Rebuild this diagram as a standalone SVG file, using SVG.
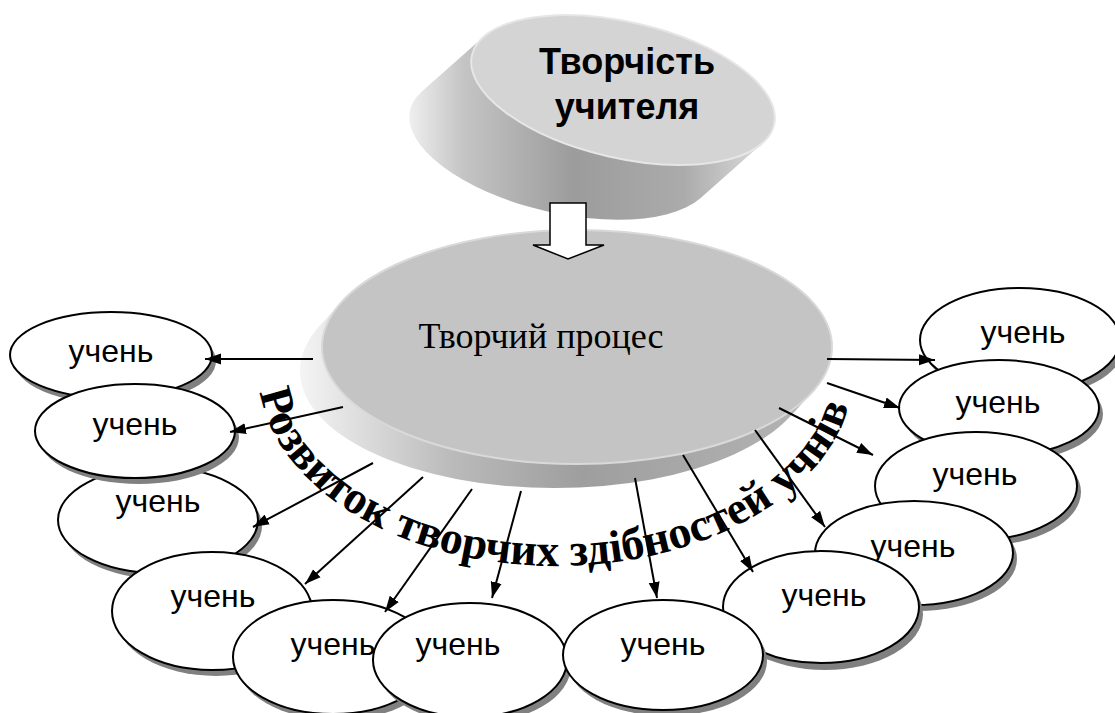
<svg xmlns="http://www.w3.org/2000/svg" width="1115" height="713" viewBox="0 0 1115 713">
<defs>
  <linearGradient id="gTopBody" gradientUnits="userSpaceOnUse" x1="409" y1="0" x2="775" y2="0">
    <stop offset="0" stop-color="#efefef"/>
    <stop offset="0.15" stop-color="#c4c4c4"/>
    <stop offset="0.45" stop-color="#9c9c9c"/>
    <stop offset="0.75" stop-color="#ababab"/>
    <stop offset="1" stop-color="#e2e2e2"/>
  </linearGradient>
  <linearGradient id="gMidBody" gradientUnits="userSpaceOnUse" x1="300" y1="0" x2="812" y2="0">
    <stop offset="0" stop-color="#f4f4f4"/>
    <stop offset="0.3" stop-color="#bababa"/>
    <stop offset="0.55" stop-color="#9e9e9e"/>
    <stop offset="1" stop-color="#b4b4b4"/>
  </linearGradient>
  <marker id="ah" markerWidth="17" markerHeight="12" refX="16" refY="6" orient="auto" markerUnits="userSpaceOnUse">
    <path d="M0,0.5 L16,6 L0,11.5 Z" fill="#000"/>
  </marker>
  <path id="arcPath" d="M 258,370 A 298 196 0 0 0 854,370" fill="none"/>
</defs>
<style>
  .stu{fill:#fff;stroke:#000;stroke-width:2}
  .sh{fill:#808080}
  .lbl{font-family:"Liberation Sans",Arial,sans-serif;font-size:32px;text-anchor:middle;fill:#000}
  .conn line{stroke:#000;stroke-width:2;marker-end:url(#ah)}
</style>
<rect width="1115" height="713" fill="#fff"/>

<g id="student-1"><ellipse class="sh" cx="115" cy="361" rx="101" ry="43"/><ellipse class="stu" cx="111" cy="355" rx="101" ry="43"/><text class="lbl" x="111" y="362">учень</text></g>
<g id="student-3"><ellipse class="sh" cx="162" cy="526" rx="100" ry="53"/><ellipse class="stu" cx="158" cy="520" rx="100" ry="53"/><text class="lbl" x="158" y="512">учень</text></g>
<g id="student-2"><ellipse class="sh" cx="139" cy="437" rx="100" ry="47"/><ellipse class="stu" cx="135" cy="431" rx="100" ry="47"/><text class="lbl" x="135" y="435">учень</text></g>
<g id="student-4"><ellipse class="sh" cx="216" cy="617" rx="100" ry="59"/><ellipse class="stu" cx="212" cy="611" rx="100" ry="59"/><text class="lbl" x="213" y="607">учень</text></g>
<g id="student-5"><ellipse class="sh" cx="337" cy="663" rx="100" ry="57"/><ellipse class="stu" cx="333" cy="657" rx="100" ry="57"/><text class="lbl" x="333" y="655">учень</text></g>
<g id="student-6"><ellipse class="sh" cx="474" cy="666" rx="97" ry="57"/><ellipse class="stu" cx="470" cy="660" rx="97" ry="57"/><text class="lbl" x="458" y="655">учень</text></g>
<g id="student-12"><ellipse class="sh" cx="1024" cy="346" rx="100" ry="52"/><ellipse class="stu" cx="1020" cy="340" rx="100" ry="52"/><text class="lbl" x="1023" y="343">учень</text></g>
<g id="student-11"><ellipse class="sh" cx="1003" cy="414" rx="100" ry="48"/><ellipse class="stu" cx="999" cy="408" rx="100" ry="48"/><text class="lbl" x="998" y="413">учень</text></g>
<g id="student-10"><ellipse class="sh" cx="980" cy="492" rx="101" ry="54"/><ellipse class="stu" cx="976" cy="486" rx="101" ry="54"/><text class="lbl" x="975" y="485">учень</text></g>
<g id="student-9"><ellipse class="sh" cx="918" cy="559" rx="99" ry="52"/><ellipse class="stu" cx="914" cy="553" rx="99" ry="52"/><text class="lbl" x="913" y="557">учень</text></g>
<g id="student-8"><ellipse class="sh" cx="825" cy="614" rx="98" ry="56"/><ellipse class="stu" cx="821" cy="607" rx="98" ry="56"/><text class="lbl" x="824" y="606">учень</text></g>
<g id="student-7"><ellipse class="sh" cx="667" cy="661" rx="100" ry="55"/><ellipse class="stu" cx="663" cy="655" rx="100" ry="55"/><text class="lbl" x="663" y="655">учень</text></g>

<g id="process">
  <path d="M 812.1,392.4 L 790.1,416.4 A 255 117 0 0 1 456.1,478.9 A 255 117 0 0 1 319.9,325.6 L 341.9,301.6 A 255 117 0 0 1 675.9,239.1 A 255 117 0 0 1 812.1,392.4 Z" fill="url(#gMidBody)"/>
  <ellipse cx="577" cy="347" rx="255" ry="117" fill="#c4c4c4" stroke="#d9d9d9" stroke-width="2"/>
  <text x="541" y="348" font-family="'Liberation Serif','Times New Roman',serif" font-size="36" text-anchor="middle" fill="#000">Творчий процес</text>
</g>

<g id="teacher">
  <path d="M 762.7,143.0 L 700.7,198.0 A 155 68 13 0 1 501.6,197.8 A 155 68 13 0 1 421.3,92.0 L 483.3,37.0 A 155 68 13 0 1 682.4,37.2 A 155 68 13 0 1 762.7,143.0 Z" fill="url(#gTopBody)"/>
  <ellipse cx="623" cy="90" rx="155" ry="68" transform="rotate(13 623 90)" fill="#d4d4d4" stroke="#e6e6e6" stroke-width="2"/>
  <text font-family="'Liberation Sans',Arial,sans-serif" font-weight="bold" font-size="36" text-anchor="middle" fill="#000"><tspan x="627" y="74">Творчість</tspan><tspan x="627" y="119">учителя</tspan></text>
</g>

<text font-family="'Liberation Serif','Times New Roman',serif" font-weight="bold" font-size="46" fill="#000"><textPath href="#arcPath" startOffset="22">Розвиток творчих здібностей учнів</textPath></text>

<g id="connectors" class="conn">
  <polygon points="550,203 586,203 586,245 604,245 568,259 533,245 550,245" fill="#fff" stroke="#000" stroke-width="1.5"/>
  <line x1="313" y1="359" x2="205" y2="359"/>
  <line x1="343" y1="407" x2="230" y2="432"/>
  <line x1="373" y1="463" x2="253" y2="527"/>
  <line x1="423" y1="477" x2="305" y2="584"/>
  <line x1="472" y1="489" x2="385" y2="612"/>
  <line x1="521" y1="491" x2="492" y2="598"/>
  <line x1="635" y1="478" x2="657" y2="598"/>
  <line x1="683" y1="455" x2="753" y2="572"/>
  <line x1="755" y1="430" x2="825" y2="527"/>
  <line x1="779" y1="408" x2="873" y2="455"/>
  <line x1="827" y1="383" x2="900" y2="408"/>
  <line x1="827" y1="359" x2="935" y2="360"/>
</g>
</svg>
